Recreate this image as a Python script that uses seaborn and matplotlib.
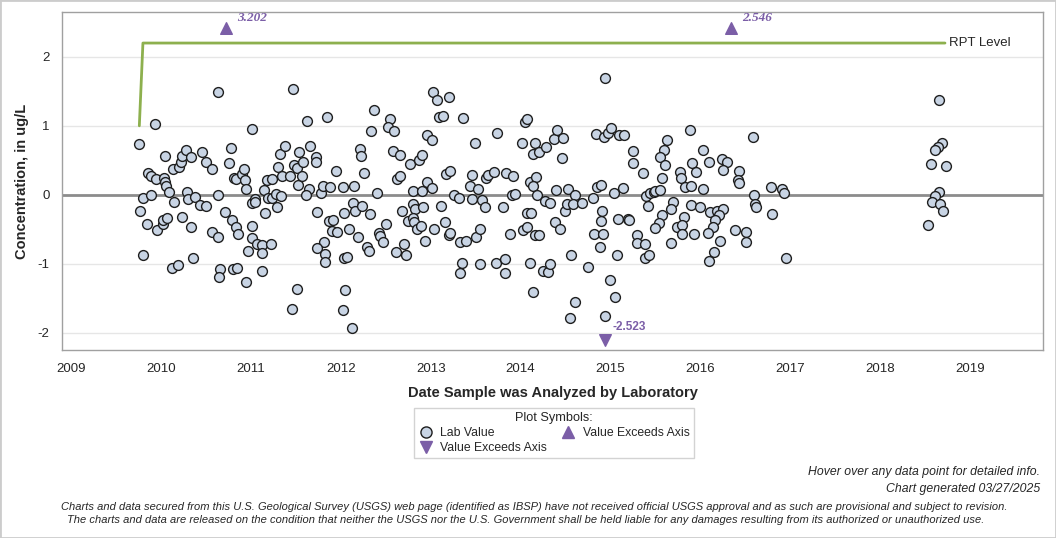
import numpy as np
import pandas as pd
import matplotlib
matplotlib.use('Agg')
import matplotlib.pyplot as plt
import seaborn as sns
from matplotlib.lines import Line2D
from matplotlib.patches import Rectangle

# Lab values (decimal year, concentration ug/L), grouped by year
x2009 = [2009.76, 2009.77, 2009.80, 2009.80, 2009.86, 2009.89, 2009.89, 2009.85, 2009.93, 2009.94, 2009.96]
y2009 = [0.74, -0.24, -0.05, -0.88, 0.32, 0.27, -0.01, -0.43, 1.03, 0.23, -0.51]

x2010 = [2010.03, 2010.04, 2010.05, 2010.06, 2010.09, 2010.02, 2010.02, 2010.07, 2010.12, 2010.19,
         2010.36, 2010.14, 2010.20, 2010.22, 2010.24, 2010.28, 2010.34, 2010.46, 2010.50, 2010.57,
         2010.29, 2010.30, 2010.38, 2010.15, 2010.43, 2010.50, 2010.24, 2010.33, 2010.63, 2010.57,
         2010.63, 2010.66, 2010.65, 2010.80, 2010.85, 2010.95, 2010.71, 2010.79, 2010.84, 2010.86,
         2010.97, 2010.76, 2010.78, 2010.81, 2010.84, 2010.90, 2010.92, 2010.93, 2010.95, 2010.64]
y2010 = [0.24, 0.19, 0.56, 0.13, 0.04, -0.42, -0.37, -0.33, -1.06, -1.02,
         -0.92, 0.37, 0.40, 0.48, 0.56, 0.65, 0.55, 0.62, 0.47, 0.37,
         0.04, -0.06, -0.03, -0.11, -0.15, -0.16, -0.32, -0.46, 0.00, -0.54,
         -0.61, -1.07, -1.19, -1.07, -1.06, -1.27, -0.25, -0.36, -0.46, -0.57,
         -0.82, 0.46, 0.68, 0.25, 0.23, 0.30, 0.37, 0.21, 0.08, 1.49]

x2011 = [2011.01, 2011.47, 2011.01, 2011.05, 2011.05, 2011.01, 2011.01, 2011.07, 2011.12, 2011.12,
         2011.22, 2011.12, 2011.15, 2011.16, 2011.19, 2011.23, 2011.29, 2011.28, 2011.34, 2011.18,
         2011.24, 2011.30, 2011.35, 2011.44, 2011.32, 2011.38, 2011.48, 2011.51, 2011.54, 2011.53,
         2011.51, 2011.46, 2011.63, 2011.85, 2011.66, 2011.58, 2011.72, 2011.72, 2011.57, 2011.65,
         2011.61, 2011.78, 2011.80, 2011.88, 2011.95, 2011.74, 2011.87, 2011.91, 2011.90, 2011.96,
         2011.81, 2011.74, 2011.82, 2011.82]
y2011 = [0.95, 1.53, -0.12, -0.06, -0.11, -0.45, -0.62, -0.71, -0.73, -0.85,
         -0.71, -1.11, 0.07, -0.27, -0.05, -0.04, -0.17, 0.01, -0.02, 0.21,
         0.23, 0.40, 0.27, 0.27, 0.59, 0.71, 0.43, 0.39, 0.62, 0.14,
         -1.37, -1.65, 1.07, 1.13, 0.71, 0.48, 0.55, 0.48, 0.27, 0.09,
         0.00, 0.02, 0.13, 0.12, 0.35, -0.25, -0.38, -0.37, -0.53, -0.54,
         -0.69, -0.77, -0.86, -0.97]

x2012 = [2012.37, 2012.55, 2012.52, 2012.59, 2012.34, 2012.02, 2012.15, 2012.21, 2012.22, 2012.26,
         2012.40, 2012.58, 2012.66, 2012.77, 2012.87, 2012.90, 2012.96, 2012.63, 2012.66, 2012.80,
         2012.90, 2012.96, 2012.04, 2012.14, 2012.16, 2012.24, 2012.33, 2012.09, 2012.19, 2012.04,
         2012.07, 2012.29, 2012.31, 2012.43, 2012.44, 2012.47, 2012.50, 2012.62, 2012.70, 2012.73,
         2012.68, 2012.80, 2012.83, 2012.91, 2012.75, 2012.80, 2012.82, 2012.85, 2012.89, 2012.94,
         2012.05, 2012.03, 2012.12]
y2012 = [1.23, 1.10, 0.99, 0.92, 0.92, 0.12, 0.13, 0.67, 0.56, 0.32,
         0.03, 0.64, 0.58, 0.44, 0.50, 0.58, 0.86, 0.23, 0.27, 0.06,
         0.05, 0.19, -0.27, -0.12, -0.23, -0.16, -0.28, -0.49, -0.61, -0.92,
         -0.90, -0.76, -0.82, -0.56, -0.60, -0.68, -0.43, -0.83, -0.72, -0.88,
         -0.23, -0.14, -0.21, -0.18, -0.38, -0.33, -0.40, -0.49, -0.45, -0.67,
         -1.38, -1.67, -1.93]

x2013 = [2013.03, 2013.07, 2013.20, 2013.09, 2013.14, 2013.36, 2013.01, 2013.01, 2013.17, 2013.22,
         2013.26, 2013.32, 2013.04, 2013.11, 2013.16, 2013.20, 2013.22, 2013.33, 2013.35, 2013.33,
         2013.74, 2013.49, 2013.46, 2013.44, 2013.53, 2013.61, 2013.64, 2013.70, 2013.84, 2013.92,
         2013.90, 2013.94, 2013.46, 2013.57, 2013.60, 2013.80, 2013.39, 2013.50, 2013.55, 2013.88,
         2013.55, 2013.73, 2013.83, 2013.83]
y2013 = [1.49, 1.37, 1.42, 1.13, 1.14, 1.11, 0.79, 0.10, 0.30, 0.34,
         0.00, -0.04, -0.49, -0.16, -0.40, -0.59, -0.55, -0.69, -0.99, -1.13,
         0.90, 0.75, 0.28, 0.13, 0.08, 0.24, 0.28, 0.33, 0.32, 0.27,
         -0.01, 0.01, -0.06, -0.07, -0.17, -0.18, -0.67, -0.61, -0.50, -0.57,
         -1.00, -0.99, -0.93, -1.13]

x2014 = [2014.94, 2014.05, 2014.07, 2014.02, 2014.16, 2014.14, 2014.20, 2014.28, 2014.37, 2014.41,
         2014.47, 2014.46, 2014.84, 2014.93, 2014.97, 2014.10, 2014.17, 2014.14, 2014.18, 2014.39,
         2014.53, 2014.61, 2014.85, 2014.89, 2014.07, 2014.12, 2014.27, 2014.33, 2014.49, 2014.52,
         2014.58, 2014.68, 2014.80, 2014.90, 2014.89, 2014.03, 2014.07, 2014.16, 2014.21, 2014.38,
         2014.44, 2014.82, 2014.92, 2014.88, 2014.10, 2014.25, 2014.31, 2014.33, 2014.14, 2014.56,
         2014.75, 2014.60, 2014.55, 2014.94]
y2014 = [1.69, 1.05, 1.10, 0.75, 0.75, 0.59, 0.62, 0.69, 0.81, 0.94,
         0.82, 0.54, 0.88, 0.84, 0.89, 0.19, 0.26, 0.13, 0.00, 0.07,
         0.08, -0.01, 0.11, 0.14, -0.27, -0.27, -0.09, -0.12, -0.24, -0.13,
         -0.13, -0.12, -0.04, -0.24, -0.38, -0.51, -0.47, -0.58, -0.59, -0.40,
         -0.50, -0.57, -0.57, -0.75, -0.99, -1.10, -1.12, -1.01, -1.41, -0.87,
         -1.05, -1.55, -1.78, -1.75]

x2015 = [2015.01, 2015.09, 2015.15, 2015.04, 2015.14, 2015.08, 2015.20, 2015.07, 2015.00, 2015.05,
         2015.88, 2015.63, 2015.25, 2015.25, 2015.60, 2015.55, 2015.61, 2015.36, 2015.57, 2015.77,
         2015.78, 2015.91, 2015.95, 2015.83, 2015.89, 2015.40, 2015.44, 2015.48, 2015.50, 2015.55,
         2015.42, 2015.70, 2015.67, 2015.90, 2015.99, 2015.82, 2015.21, 2015.57, 2015.54, 2015.49,
         2015.74, 2015.79, 2015.80, 2015.93, 2015.30, 2015.30, 2015.38, 2015.67, 2015.38, 2015.43]
y2015 = [0.97, 0.87, 0.87, 0.02, 0.10, -0.35, -0.35, -0.87, -1.24, -1.48,
         0.94, 0.79, 0.64, 0.46, 0.65, 0.55, 0.43, 0.31, 0.24, 0.33,
         0.25, 0.46, 0.33, 0.12, 0.13, -0.02, 0.02, 0.04, 0.06, 0.07,
         -0.16, -0.10, -0.21, -0.15, -0.17, -0.32, -0.37, -0.30, -0.41, -0.48,
         -0.46, -0.44, -0.57, -0.57, -0.59, -0.70, -0.72, -0.70, -0.92, -0.87]

x2016 = [2016.59, 2016.03, 2016.09, 2016.24, 2016.30, 2016.25, 2016.43, 2016.42, 2016.43, 2016.03,
         2016.79, 2016.91, 2016.93, 2016.11, 2016.19, 2016.25, 2016.21, 2016.16, 2016.14, 2016.60,
         2016.61, 2016.62, 2016.80, 2016.08, 2016.22, 2016.39, 2016.51, 2016.51, 2016.15, 2016.09,
         2016.95]
y2016 = [0.84, 0.65, 0.48, 0.52, 0.48, 0.36, 0.35, 0.22, 0.17, 0.09,
         0.11, 0.08, 0.02, -0.25, -0.24, -0.20, -0.29, -0.37, -0.46, -0.01,
         -0.14, -0.18, -0.28, -0.56, -0.67, -0.51, -0.54, -0.68, -0.83, -0.96,
         -0.92]

x2018 = [2018.65, 2018.69, 2018.64, 2018.61, 2018.56, 2018.73, 2018.65, 2018.61, 2018.57, 2018.67,
         2018.70, 2018.53]
y2018 = [1.37, 0.75, 0.70, 0.65, 0.44, 0.42, 0.04, -0.02, -0.11, -0.13,
         -0.23, -0.44]

# values beyond the axis range, drawn as triangles at the axis edge
over_x = [2010.72, 2016.34]
over_val = [3.202, 2.546]
under_x = [2014.94]
under_val = [-2.523]

# reporting level line
rpt_x = [2009.76, 2009.80, 2018.72]
rpt_y = [1.0, 2.2, 2.2]

df = pd.DataFrame({
    'date': x2009 + x2010 + x2011 + x2012 + x2013 + x2014 + x2015 + x2016 + x2018,
    'conc': y2009 + y2010 + y2011 + y2012 + y2013 + y2014 + y2015 + y2016 + y2018,
})

sns.set_style('white')
plt.rcParams['font.family'] = ['Liberation Sans', 'DejaVu Sans']
plt.rcParams['axes.unicode_minus'] = False

purple = '#7b5ea7'
face = '#c8d4e4'

fig = plt.figure(figsize=(10.56, 5.38), dpi=100)
ax = fig.add_axes([62 / 1056, 1 - 350 / 538, (1043 - 62) / 1056, (350 - 12) / 538])

ax.set_xlim(2008.9, 2019.81)
ax.set_ylim(-2.25, 2.65)

for g in [-2, -1, 1, 2]:
    ax.axhline(g, color='#e6e6e6', lw=1, zorder=0)
ax.axhline(0, color='#8c8c8c', lw=2, zorder=1)

ax.plot(rpt_x, rpt_y, color='#8db04e', lw=2, zorder=2)
ax.text(rpt_x[-1] + 0.05, rpt_y[-1], 'RPT Level', va='center', ha='left', fontsize=9.5)

sns.scatterplot(data=df, x='date', y='conc', ax=ax, s=50, color=face,
                edgecolor='#1e1e1e', linewidth=1, zorder=3, legend=False)

top_cap = 2.42
bot_cap = -2.10
ax.scatter(over_x, [top_cap] * len(over_x), marker='^', s=70, color=purple, zorder=3)
ax.scatter(under_x, [bot_cap] * len(under_x), marker='v', s=70, color=purple, zorder=3)
for xv, v in zip(over_x, over_val):
    ax.annotate(f'{v:.3f}', (xv, top_cap), xytext=(8, 7), textcoords='offset points',
                color=purple, fontsize=9.5, fontweight='bold', style='italic',
                family='Liberation Serif', va='center', ha='left')
for xv, v in zip(under_x, under_val):
    ax.annotate(f'{v:.3f}', (xv, bot_cap), xytext=(5, 9), textcoords='offset points',
                color=purple, fontsize=8.5, fontweight='bold', va='center', ha='left')

ax.set_xticks(range(2009, 2020))
ax.set_xticklabels([str(y) for y in range(2009, 2020)])
ax.set_yticks([-2, -1, 0, 1, 2])
ax.tick_params(axis='both', direction='out', length=5, color='#a0a0a0', labelsize=9.5, pad=4)
for sp in ax.spines.values():
    sp.set_color('#a0a0a0')
    sp.set_linewidth(1)

ax.set_xlabel('Date Sample was Analyzed by Laboratory', fontsize=10.5, fontweight='bold', labelpad=8)
ax.set_ylabel('Concentration, in ug/L', fontsize=10.5, fontweight='bold', labelpad=6)

handles = [
    Line2D([], [], marker='o', ls='', markersize=8, markerfacecolor=face, markeredgecolor='#1e1e1e'),
    Line2D([], [], marker='v', ls='', markersize=9, color=purple),
    Line2D([], [], marker='^', ls='', markersize=9, color=purple),
]
labels = ['Lab Value', 'Value Exceeds Axis', 'Value Exceeds Axis']
leg = fig.legend(handles, labels, title='Plot Symbols:', ncol=2, loc='center',
                 bbox_to_anchor=(554 / 1056, 1 - 433 / 538), fontsize=8.8, title_fontsize=9.2,
                 frameon=True, fancybox=False, edgecolor='#c8c8c8', handletextpad=0.6,
                 columnspacing=1.1, labelspacing=0.25, borderpad=0.35, handlelength=1.2)
leg.get_frame().set_linewidth(1)

fig.text(1040 / 1056, 1 - 472 / 538, 'Hover over any data point for detailed info.',
         ha='right', va='center', style='italic', fontsize=8.8)
fig.text(1040 / 1056, 1 - 489 / 538, 'Chart generated 03/27/2025',
         ha='right', va='center', style='italic', fontsize=8.8)
fig.text(534 / 1056, 1 - 507 / 538,
         'Charts and data secured from this U.S. Geological Survey (USGS) web page (identified as IBSP) have not received official USGS approval and as such are provisional and subject to revision.',
         ha='center', va='center', style='italic', fontsize=8)
fig.text(526 / 1056, 1 - 520 / 538,
         'The charts and data are released on the condition that neither the USGS nor the U.S. Government shall be held liable for any damages resulting from its authorized or unauthorized use.',
         ha='center', va='center', style='italic', fontsize=8)

fig.patches.append(Rectangle((0, 0), 1, 1, transform=fig.transFigure, fill=False,
                             edgecolor='#cccccc', lw=2))

fig.savefig('out.png', dpi=100)
